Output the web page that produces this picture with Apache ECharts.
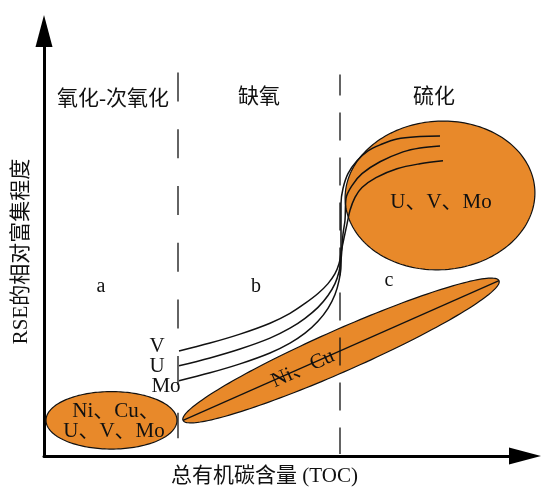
<!DOCTYPE html>
<html>
<head>
<meta charset="utf-8">
<script src="https://cdn.jsdelivr.net/npm/echarts@6/dist/echarts.min.js"></script>
<style>
  html, body { margin: 0; padding: 0; background: #fff; }
  #chart { width: 542px; height: 492px; }
</style>
</head>
<body>
<div id="chart"></div>
<script>
// 示意图坐标：横轴 TOC，纵轴 RSE 相对富集程度（无刻度，单位任意）
const xMax = 481;
const yMax = 429;

// 分区名称与位置
const zoneNames = ['氧化-次氧化', '缺氧', '硫化'];
const zonePos = [[69, 360], [215, 362], [390, 362]];

// 阶段 a / b / c
const stageNames = ['a', 'b', 'c'];
const stagePos = [[57, 171], [212, 171], [345, 177]];

// 元素标注
const elemNames = ['V', 'U', 'Mo', 'U、V、Mo', 'Ni、Cu、', 'U、V、Mo', 'Ni、Cu'];
const elemPos = [[113, 111], [113, 90], [122, 70], [397, 256], [72, 45], [70, 25], [259, 88]];
const elemRotate = [0, 0, 0, 0, 0, 0, 24];

// 分界虚线
const dividerA = [[134, 387], [134, 18]];
const dividerB = [[296, 385], [296, 2]];

// 椭圆：[中心x, 中心y, 半长轴, 半短轴, 旋转角]
const ellipses = [
  [396, 263, 95, 75, 4],
  [67.5, 36, 65.5, 29, 0],
  [297, 106.5, 173, 21, 24.05]
];
// Ni、Cu 椭圆长轴
const majorAxis = [[139, 36], [455, 177]];

// V、U、Mo 富集曲线
const curveV = [[135, 106], [166, 114], [196, 123], [226, 134], [246, 144], [261, 154], [274, 164], [284, 174],
  [291, 184], [295, 194], [297, 205], [300, 220], [303, 234], [306, 248], [311, 261], [318, 271], [332, 281],
  [353, 290], [376, 295], [399, 298]];
const curveU = [[135, 91], [166, 99], [196, 108], [226, 119], [246, 129], [261, 139], [274, 150], [284, 162],
  [291, 174], [295, 186], [297, 198], [298, 210], [299, 224], [301, 238], [302, 260], [308, 273], [318, 285],
  [336, 297], [359, 307], [376, 311], [396, 313]];
const curveMo = [[135, 76], [166, 84], [196, 93], [226, 104], [246, 114], [261, 124], [274, 136], [284, 149],
  [291, 163], [295, 177], [297, 192], [297, 205], [297, 220], [297, 238], [297, 255], [299, 270], [304, 285],
  [313, 298], [324, 308], [336, 314], [353, 320], [376, 322.5], [396, 323]];

const orange = '#E8892A';
const ink = '#111';
const fontFam = '"Liberation Serif", "Noto Sans CJK SC", serif';

const chart = echarts.init(document.getElementById('chart'), null, { renderer: 'canvas' });

// 文本项
const texts = [];
zoneNames.forEach((t, i) => texts.push({ value: zonePos[i], text: t, size: 21, rot: 0 }));
stageNames.forEach((t, i) => texts.push({ value: stagePos[i], text: t, size: 20, rot: 0 }));
elemNames.forEach((t, i) => texts.push({ value: elemPos[i], text: t, size: 21, rot: elemRotate[i] }));

function ellipseItem(params, api) {
  const cx = api.value(0), cy = api.value(1), rx = api.value(2), ry = api.value(3);
  const a = api.value(4) * Math.PI / 180;
  const pts = [];
  for (let k = 0; k < 180; k++) {
    const t = k / 180 * Math.PI * 2;
    const x = cx + rx * Math.cos(t) * Math.cos(a) - ry * Math.sin(t) * Math.sin(a);
    const y = cy + rx * Math.cos(t) * Math.sin(a) + ry * Math.sin(t) * Math.cos(a);
    pts.push(api.coord([x, y]));
  }
  return {
    type: 'polygon',
    shape: { points: pts },
    style: { fill: orange, stroke: ink, lineWidth: 1.2 }
  };
}

function textItem(params, api) {
  const p = api.coord([api.value(0), api.value(1)]);
  const it = texts[params.dataIndex];
  return {
    type: 'text',
    x: p[0],
    y: p[1],
    rotation: it.rot * Math.PI / 180,
    style: {
      text: it.text,
      fontSize: it.size,
      fontFamily: fontFam,
      fill: ink,
      align: 'center',
      verticalAlign: 'middle'
    }
  };
}

const lineBase = {
  type: 'line',
  showSymbol: false,
  symbol: 'none',
  silent: true,
  clip: false
};

const option = {
  animation: false,
  backgroundColor: '#fff',
  grid: { left: 44, right: 17, top: 31, bottom: 32 },
  xAxis: {
    type: 'value',
    min: 0,
    max: xMax,
    name: '总有机碳含量 (TOC)',
    nameLocation: 'middle',
    nameGap: 10,
    nameTextStyle: { fontSize: 21, fontFamily: fontFam, color: ink, padding: [0, 40, 0, 0] },
    axisLine: {
      show: true,
      symbol: ['none', 'triangle'],
      symbolSize: [17, 32],
      lineStyle: { color: '#000', width: 3 }
    },
    axisTick: { show: false },
    axisLabel: { show: false },
    splitLine: { show: false }
  },
  yAxis: {
    type: 'value',
    min: 0,
    max: yMax,
    name: 'RSE的相对富集程度',
    nameLocation: 'middle',
    nameGap: 12,
    nameRotate: 90,
    nameTextStyle: { fontSize: 21, fontFamily: fontFam, color: ink, padding: [0, 16, 0, 0] },
    axisLine: {
      show: true,
      symbol: ['none', 'triangle'],
      symbolSize: [17, 32],
      lineStyle: { color: '#000', width: 3 }
    },
    axisTick: { show: false },
    axisLabel: { show: false },
    splitLine: { show: false }
  },
  series: [
    {
      type: 'custom',
      renderItem: ellipseItem,
      data: ellipses,
      encode: { x: 0, y: 1 },
      clip: false,
      silent: true,
      z: 1
    },
    Object.assign({}, lineBase, {
      data: majorAxis,
      lineStyle: { color: ink, width: 1.2 },
      z: 2
    }),
    Object.assign({}, lineBase, {
      data: dividerA,
      lineStyle: { color: ink, width: 1.3, type: [29, 27.7] },
      z: 3
    }),
    Object.assign({}, lineBase, {
      data: dividerB,
      lineStyle: { color: ink, width: 1.3, type: [28, 17], dashOffset: 7 },
      z: 3
    }),
    Object.assign({}, lineBase, {
      name: 'V', data: curveV, smooth: 0.35,
      lineStyle: { color: ink, width: 1.5 }, z: 4
    }),
    Object.assign({}, lineBase, {
      name: 'U', data: curveU, smooth: 0.35,
      lineStyle: { color: ink, width: 1.5 }, z: 4
    }),
    Object.assign({}, lineBase, {
      name: 'Mo', data: curveMo, smooth: 0.35,
      lineStyle: { color: ink, width: 1.5 }, z: 4
    }),
    {
      type: 'custom',
      renderItem: textItem,
      data: texts.map(t => t.value),
      encode: { x: 0, y: 1 },
      clip: false,
      silent: true,
      z: 5
    }
  ]
};

chart.setOption(option);
</script>
</body>
</html>
